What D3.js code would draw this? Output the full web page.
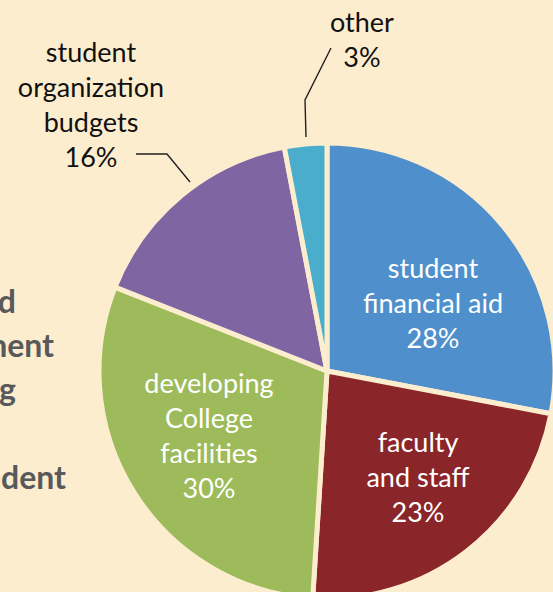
<!DOCTYPE html>
<html>
<head>
<meta charset="utf-8">
<script src="https://cdn.jsdelivr.net/npm/d3@7"></script>
<style>
  html, body { margin: 0; padding: 0; background: #fdedcf; }
  svg { display: block; }
  text { font-family: Lato, "Open Sans", sans-serif; font-weight: 400; }
</style>
</head>
<body>
<svg id="chart"></svg>
<script>
// data
const categories = ['student financial aid', 'faculty and staff', 'developing College facilities',
  'student organization budgets', 'other'];
const shares = [28, 23, 30, 16, 3];
const labelLines = [
  ['student', 'financial aid', '28%'],
  ['faculty', 'and staff', '23%'],
  ['developing', 'College', 'facilities', '30%'],
  ['student', 'organization', 'budgets', '16%'],
  ['other', '3%'],
];
const colors = ['#4e8fcc', '#8a2529', '#9dbb5a', '#7f65a2', '#4aadcb'];
// cut-off paragraph text on the left edge
const sideText = ['d', 'ment', 'g', '', 'dent'];

const width = 553;
const height = 592;
const cx = 327;
const cy = 371;
const radius = 228;

// label placement (x, first baseline), separate from the data
const labelPos = [
  { x: 433, y: 278, fill: '#fff' },
  { x: 418, y: 452, fill: '#fff' },
  { x: 209, y: 393, fill: '#fff' },
  { x: 91, y: 62, fill: '#111' },
  { x: 362, y: 32, fill: '#111' },
];
const leaders = [
  null, null, null,
  [[136, 154], [167, 154], [190, 182]],
  [[331, 48], [305, 100], [306, 137]],
];

const svg = d3.select('#chart')
    .attr('width', width)
    .attr('height', height);

svg.append('rect')
    .attr('width', width)
    .attr('height', height)
    .attr('fill', '#fdedcf');

const data = categories.map((c, i) => ({ name: c, value: shares[i], idx: i }));

const pie = d3.pie()
    .value(d => d.value)
    .sort(null);

const arc = d3.arc()
    .innerRadius(0)
    .outerRadius(radius);

const g = svg.append('g')
    .attr('transform', `translate(${cx},${cy})`);

g.selectAll('path')
    .data(pie(data))
  .enter().append('path')
    .attr('d', arc)
    .attr('fill', d => colors[d.data.idx])
    .attr('stroke', '#fdedcf')
    .attr('stroke-width', 5)
    .attr('stroke-linejoin', 'round');

// slice labels
const lineH = 35;
labelLines.forEach((lines, i) => {
  const p = labelPos[i];
  const t = svg.append('text')
      .attr('text-anchor', 'middle')
      .attr('font-size', 27)
      .attr('fill', p.fill);
  lines.forEach((s, j) => {
    t.append('tspan')
        .attr('x', p.x)
        .attr('y', p.y + j * lineH)
        .text(s);
  });
});

// leader lines
const line = d3.line();
leaders.forEach(pts => {
  if (!pts) return;
  svg.append('path')
      .attr('d', line(pts))
      .attr('fill', 'none')
      .attr('stroke', '#222')
      .attr('stroke-width', 1.4);
});

// bold gray text cut at the left edge
const ends = [16, 54, 16, 0, 66];
sideText.forEach((s, i) => {
  if (!s) return;
  svg.append('text')
      .attr('x', ends[i])
      .attr('y', 313 + i * 44)
      .attr('text-anchor', 'end')
      .attr('font-size', 32)
      .style('font-weight', 700)
      .attr('fill', '#58595b')
      .text(s);
});
</script>
</body>
</html>
